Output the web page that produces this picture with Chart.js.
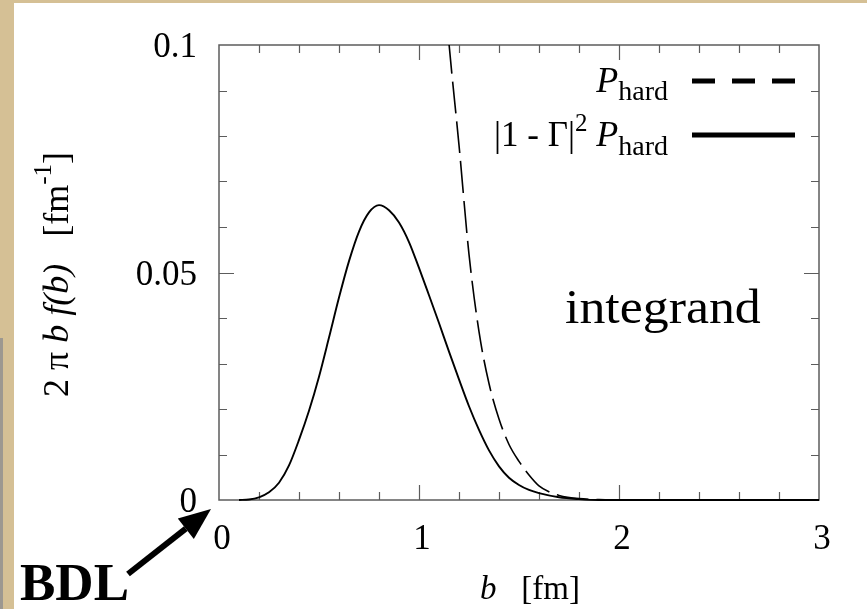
<!DOCTYPE html>
<html>
<head>
<meta charset="utf-8">
<script src="https://cdn.jsdelivr.net/npm/chart.js@4.4.0/dist/chart.umd.min.js"></script>
<style>
    html, body { margin: 0; padding: 0; }
    body { width: 867px; height: 609px; background: #d5c095; position: relative; overflow: hidden; }
    #paper { position: absolute; left: 14px; top: 3px; width: 853px; height: 606px; background: #fff; }
    #edge { position: absolute; left: 0; top: 338px; width: 3px; height: 271px; background: #9d9890; }
    #wrap { position: absolute; left: 0; top: 0; width: 867px; height: 609px; }
</style>
</head>
<body>
<div id="paper"></div>
<div id="edge"></div>
<div id="wrap"><canvas id="myChart" width="867" height="609"></canvas></div>
<script>
// impact parameter b [fm] and the two curves
var b_full = [0.10, 0.15, 0.20, 0.25, 0.30, 0.35, 0.40, 0.45, 0.50, 0.55, 0.60, 0.65, 0.70, 0.75, 0.80, 0.85, 0.90, 0.95,
              1.00, 1.05, 1.10, 1.15, 1.20, 1.25, 1.30, 1.35, 1.40, 1.45, 1.50, 1.55, 1.60, 1.70, 1.80, 1.90, 2.00, 2.50, 3.00];
var full_vals = [0, 0.0001, 0.0006, 0.0017, 0.0038, 0.0076, 0.0132, 0.0196, 0.0271, 0.0357, 0.0445, 0.0525, 0.0590, 0.0632, 0.0648, 0.0637, 0.0610, 0.0567,
                 0.0510, 0.0450, 0.0389, 0.0326, 0.0265, 0.0206, 0.0154, 0.0109, 0.0074, 0.0049, 0.0033, 0.0022, 0.0015, 0.0006, 0.0002, 0, 0, 0, 0];

var b_hard = [1.10, 1.15, 1.20, 1.25, 1.30, 1.35, 1.40, 1.45, 1.50, 1.55, 1.60, 1.65, 1.70, 1.80, 1.90, 2.00, 2.50, 3.00];
var hard_vals = [0.127, 0.1003, 0.078, 0.054, 0.037, 0.0256, 0.0178, 0.0122, 0.0085, 0.0055, 0.0031, 0.0018, 0.0010, 0.0003, 0.0001, 0, 0, 0];

var x_ticks = [0, 1, 2, 3];
var x_tick_labels = ['0', '1', '2', '3'];
var y_ticks = [0, 0.05, 0.1];
var y_tick_labels = ['0', '0.05', '0.1'];

var serif = '"Liberation Serif", "Times New Roman", serif';

function toPoints(xs, ys) {
    var pts = [];
    for (var i = 0; i < xs.length; i++) {
        pts.push({ x: xs[i], y: ys[i] });
    }
    return pts;
}

// draws a row of text pieces (font, vertical shift) one after another
function drawRuns(ctx, runs, x, y, align) {
    var total = 0;
    for (var i = 0; i < runs.length; i++) {
        ctx.font = runs[i].f;
        runs[i].w = ctx.measureText(runs[i].t).width;
        total += runs[i].w;
    }
    var cx = x;
    if (align == 'right') cx = x - total;
    if (align == 'center') cx = x - total / 2;
    ctx.textAlign = 'left';
    ctx.textBaseline = 'alphabetic';
    for (var j = 0; j < runs.length; j++) {
        ctx.font = runs[j].f;
        ctx.fillText(runs[j].t, cx, y + (runs[j].dy || 0));
        cx += runs[j].w;
    }
}

var frame = {
    id: 'frame',
    beforeDatasetsDraw: function(chart) {
        var ctx = chart.ctx, a = chart.chartArea;
        var xs = chart.scales.x, ys = chart.scales.y;
        ctx.save();
        ctx.strokeStyle = '#5c5c5c';
        ctx.lineWidth = 1.5;
        ctx.strokeRect(a.left, a.top, a.right - a.left, a.bottom - a.top);
        ctx.lineWidth = 1.2;
        ctx.beginPath();
        // b ticks every 0.2, longer at integers
        for (var i = 1; i < 15; i++) {
            var px = Math.round(xs.getPixelForValue(i / 5)) + 0.5;
            var len = (i % 5 == 0) ? 15 : 8;
            ctx.moveTo(px, a.bottom); ctx.lineTo(px, a.bottom - len);
            ctx.moveTo(px, a.top); ctx.lineTo(px, a.top + len);
        }
        // y ticks every 0.01, longer at 0.05
        for (var k = 1; k < 10; k++) {
            var py = Math.round(ys.getPixelForValue(k / 100)) + 0.5;
            var ylen = (k % 5 == 0) ? 15 : 8;
            ctx.moveTo(a.left, py); ctx.lineTo(a.left + ylen, py);
            ctx.moveTo(a.right, py); ctx.lineTo(a.right - ylen, py);
        }
        ctx.stroke();
        ctx.restore();
    },
    afterDraw: function(chart) {
        var ctx = chart.ctx, a = chart.chartArea;
        var xs = chart.scales.x, ys = chart.scales.y;
        ctx.save();
        ctx.fillStyle = '#000';

        // tick labels
        ctx.font = '35px ' + serif;
        ctx.textBaseline = 'alphabetic';
        ctx.textAlign = 'right';
        for (var i = 0; i < y_ticks.length; i++) {
            ctx.fillText(y_tick_labels[i], a.left - 22, ys.getPixelForValue(y_ticks[i]) + 12);
        }
        ctx.font = '35px ' + serif;
        ctx.textAlign = 'center';
        for (var j = 0; j < x_ticks.length; j++) {
            ctx.fillText(x_tick_labels[j], xs.getPixelForValue(x_ticks[j]) + 3, a.bottom + 49);
        }

        // axis titles
        drawRuns(ctx, [
            { t: 'b', f: 'italic 33px ' + serif },
            { t: '   [fm]', f: '33px ' + serif }
        ], 530, 599, 'center');

        ctx.save();
        ctx.translate(68, (a.top + a.bottom) / 2 + 2);
        ctx.rotate(-Math.PI / 2);
        drawRuns(ctx, [
            { t: '2 \u03c0 ', f: '36px ' + serif },
            { t: 'b', f: 'italic 36px ' + serif },
            { t: ' ', f: '36px ' + serif },
            { t: 'f(b)', f: 'italic 36px ' + serif },
            { t: '   [fm', f: '36px ' + serif },
            { t: '-1', f: '25px ' + serif, dy: -17 },
            { t: ']', f: '36px ' + serif }
        ], 0, 0, 'center');
        ctx.restore();

        // legend
        drawRuns(ctx, [
            { t: 'P', f: 'italic 36px ' + serif },
            { t: 'hard', f: '28px ' + serif, dy: 8 }
        ], 668, 92, 'right');
        drawRuns(ctx, [
            { t: '|1 - \u0393|', f: '35px ' + serif },
            { t: '2', f: '25px ' + serif, dy: -15 },
            { t: ' ', f: '35px ' + serif },
            { t: 'P', f: 'italic 36px ' + serif },
            { t: 'hard', f: '28px ' + serif, dy: 9 }
        ], 668, 146, 'right');
        ctx.strokeStyle = '#000';
        ctx.lineWidth = 5;
        ctx.setLineDash([23, 17]);
        ctx.beginPath(); ctx.moveTo(692, 81); ctx.lineTo(795, 81); ctx.stroke();
        ctx.setLineDash([]);
        ctx.beginPath(); ctx.moveTo(692, 135); ctx.lineTo(795, 135); ctx.stroke();

        // label inside the plot
        ctx.save();
        ctx.translate(565, 323);
        ctx.scale(1.08, 1);
        ctx.font = '48px ' + serif;
        ctx.textAlign = 'left';
        ctx.fillText('integrand', 0, 0);
        ctx.restore();

        // BDL arrow towards the origin
        ctx.font = 'bold 53px ' + serif;
        ctx.textAlign = 'left';
        ctx.fillText('BDL', 20, 600);
        var tipX = xs.getPixelForValue(0) - 8, tipY = ys.getPixelForValue(0) + 9;
        var sx = 128, sy = 574;
        var dx = tipX - sx, dy = tipY - sy, d = Math.sqrt(dx * dx + dy * dy);
        dx /= d; dy /= d;
        var bx = tipX - 32 * dx, by = tipY - 32 * dy;
        ctx.lineWidth = 6;
        ctx.beginPath(); ctx.moveTo(sx, sy); ctx.lineTo(bx, by); ctx.stroke();
        ctx.beginPath();
        ctx.moveTo(tipX, tipY);
        ctx.lineTo(bx - 13 * dy, by + 13 * dx);
        ctx.lineTo(bx + 13 * dy, by - 13 * dx);
        ctx.closePath();
        ctx.fill();
        ctx.restore();
    }
};

var ctx = document.getElementById('myChart').getContext('2d');
var chart = new Chart(ctx, {
    type: 'line',
    data: {
        datasets: [{
            label: 'P_hard',
            data: toPoints(b_hard, hard_vals),
            borderColor: '#000',
            borderWidth: 1.6,
            borderDash: [32, 8],
            pointRadius: 0,
            fill: false,
            cubicInterpolationMode: 'monotone',
            clip: { left: 5, right: 5, top: 0, bottom: 5 }
        }, {
            label: '|1 - Gamma|^2 P_hard',
            data: toPoints(b_full, full_vals),
            borderColor: '#000',
            borderWidth: 1.9,
            pointRadius: 0,
            fill: false,
            cubicInterpolationMode: 'monotone',
            clip: { left: 5, right: 5, top: 0, bottom: 5 }
        }]
    },
    options: {
        responsive: false,
        animation: false,
        events: [],
        layout: { padding: { left: 219, right: 48, top: 45, bottom: 109 } },
        plugins: { legend: { display: false }, tooltip: { enabled: false } },
        scales: {
            x: { type: 'linear', min: 0, max: 3, display: false },
            y: { type: 'linear', min: 0, max: 0.1, display: false }
        }
    },
    plugins: [frame]
});
</script>
</body>
</html>
